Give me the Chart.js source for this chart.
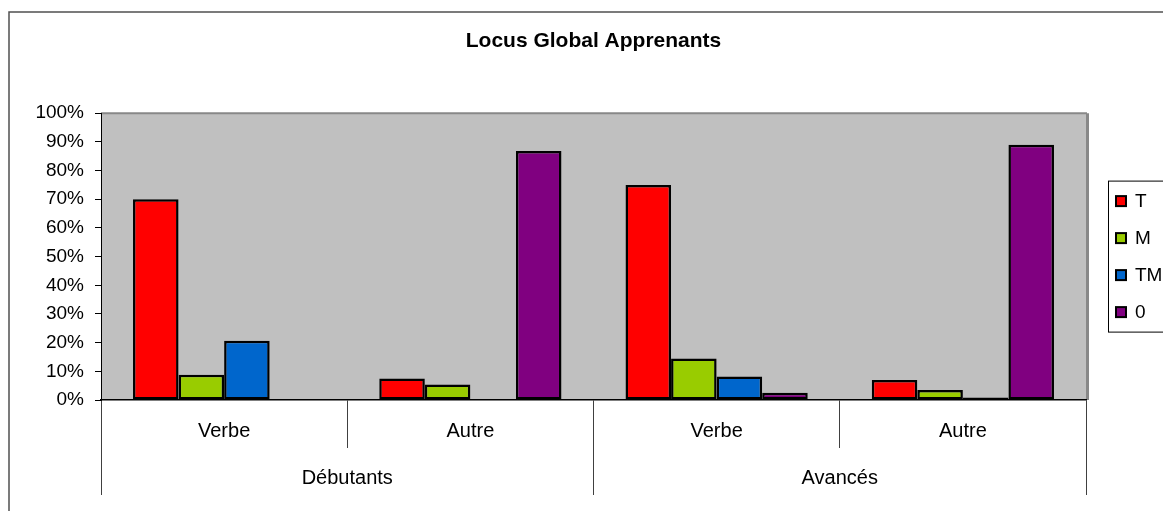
<!DOCTYPE html>
<html>
<head>
<meta charset="utf-8">
<script src="https://cdn.jsdelivr.net/npm/chart.js@4/dist/chart.umd.min.js"></script>
<style>
  html, body { margin: 0; padding: 0; background: #fff; }
  #graphe { display: block; }
</style>
</head>
<body>
<canvas id="graphe" width="1163" height="511"></canvas>
<script>
// Données
const sousCategories = ['Verbe', 'Autre', 'Verbe', 'Autre'];
const groupes = ['Débutants', 'Avancés'];
const nomsSeries = ['T', 'M', 'TM', '0'];
const valeursT = [70, 7.5, 75, 7];
const valeursM = [8.8, 5.4, 14.5, 3.5];
const valeursTM = [20.7, 0, 8.2, 0.9];
const valeurs0 = [0, 86.8, 2.5, 89];
const couleurs = ['#FF0000', '#99CC00', '#0066CC', '#800080'];
const ticksY = [0, 10, 20, 30, 40, 50, 60, 70, 80, 90, 100];

const POLICE = "'Liberation Sans', Arial, sans-serif";

// Fond gris, cadre, légende encadrée
const decor = {
  id: 'decor',
  beforeDraw(chart) {
    const { ctx, chartArea: a } = chart;
    ctx.save();
    ctx.fillStyle = '#fff';
    ctx.fillRect(0, 0, chart.width, chart.height);
    // cadre extérieur
    ctx.strokeStyle = '#505050';
    ctx.lineWidth = 1.5;
    ctx.beginPath();
    ctx.moveTo(9, chart.height);
    ctx.lineTo(9, 12);
    ctx.lineTo(chart.width, 12);
    ctx.stroke();
    // zone de traçage
    ctx.fillStyle = '#C0C0C0';
    ctx.fillRect(a.left, a.top, a.right - a.left, a.bottom - a.top);
    ctx.strokeStyle = '#888';
    ctx.lineWidth = 2;
    ctx.beginPath();
    ctx.moveTo(a.left, a.top);
    ctx.lineTo(a.right + 1, a.top);
    ctx.stroke();
    ctx.lineWidth = 3;
    ctx.beginPath();
    ctx.moveTo(a.right + 1.5, a.top);
    ctx.lineTo(a.right + 1.5, a.bottom);
    ctx.stroke();
    ctx.restore();
  },
  afterDraw(chart) {
    const { ctx, chartArea: a } = chart;
    const milieu = (a.top + a.bottom) / 2;
    const pas = 37;
    const n = chart.data.datasets.length;
    ctx.save();
    ctx.strokeStyle = '#000';
    ctx.lineWidth = 1;
    ctx.strokeRect(1108.5, milieu - 75.5, 80, 151);
    ctx.font = '19px ' + POLICE;
    ctx.textBaseline = 'middle';
    chart.data.datasets.forEach((ds, i) => {
      const y = milieu + (i - (n - 1) / 2) * pas;
      ctx.fillStyle = '#000';
      ctx.fillRect(1115, y - 6, 12, 12);
      ctx.fillStyle = ds.backgroundColor;
      ctx.fillRect(1117, y - 4, 8, 8);
      ctx.fillStyle = '#000';
      ctx.fillText(ds.label, 1135, y + 1);
    });
    ctx.restore();
  }
};

const series = [valeursT, valeursM, valeursTM, valeurs0];

new Chart(document.getElementById('graphe'), {
  type: 'bar',
  data: {
    labels: sousCategories,
    datasets: series.map((vals, i) => ({
      label: nomsSeries[i],
      data: vals,
      backgroundColor: couleurs[i],
      borderColor: '#000',
      borderWidth: 2.5,
      borderSkipped: false,
      barPercentage: 1,
      categoryPercentage: 0.74
    }))
  },
  options: {
    responsive: false,
    animation: false,
    devicePixelRatio: 1,
    layout: { padding: { left: 0, right: 77, top: 0, bottom: 0 } },
    plugins: {
      legend: { display: false },
      tooltip: { enabled: false },
      title: {
        display: true,
        text: 'Locus Global Apprenants',
        fullSize: false,
        color: '#000',
        font: { family: POLICE, size: 21, weight: 'bold' },
        padding: { top: 29, bottom: 59 }
      }
    },
    scales: {
      y: {
        min: 0,
        max: 100,
        afterBuildTicks: s => { s.ticks = ticksY.map(v => ({ value: v })); },
        ticks: {
          callback: v => v + '%',
          color: '#000',
          font: { family: POLICE, size: 19 },
          padding: 11
        },
        grid: { drawOnChartArea: false, tickLength: 6, color: '#000' },
        border: { color: '#000', width: 1 },
        afterFit: s => { s.width = 101; }
      },
      x: {
        grid: { offset: true, drawOnChartArea: false, tickLength: 48, color: '#404040' },
        border: { color: '#000', width: 1.5 },
        ticks: { color: '#000', font: { family: POLICE, size: 20 }, padding: -29 },
        afterFit: s => { s.height = 48; }
      },
      groupes: {
        type: 'category',
        position: 'bottom',
        labels: groupes,
        offset: true,
        grid: { offset: true, drawOnChartArea: false, tickLength: 47, color: '#404040' },
        border: { display: false },
        ticks: { color: '#000', font: { family: POLICE, size: 20 }, padding: -29 },
        afterFit: s => { s.height = 63; }
      }
    }
  },
  plugins: [decor]
});
</script>
</body>
</html>
